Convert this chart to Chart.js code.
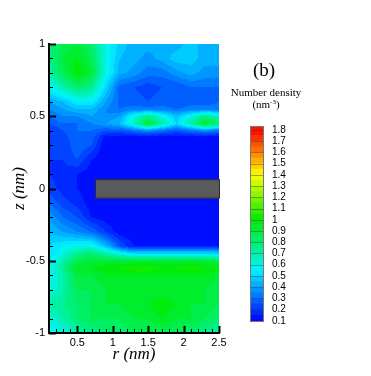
<!DOCTYPE html>
<html>
<head>
<meta charset="utf-8">
<script src="https://cdn.jsdelivr.net/npm/chart.js@4.4.1/dist/chart.umd.min.js"></script>
<style>
  body { margin: 0; background: #fff; width: 371px; height: 376px; position: relative; overflow: hidden; font-family: "Liberation Serif", serif; }
  #main { position: absolute; left: 0; top: 0; }
  #cbar { position: absolute; left: 240px; top: 110px; }
  .lbl { position: absolute; color: #000; text-align: center; white-space: nowrap; }
  .lbl sup { font-size: 7px; vertical-align: 4px; line-height: 0; }
</style>
</head>
<body>
<canvas id="main" width="371" height="376"></canvas>
<canvas id="cbar" width="60" height="230"></canvas>
<div class="lbl" style="left:244px;top:59px;width:40px;font-size:19px;">(b)</div>
<div class="lbl" style="left:216px;top:86px;width:100px;font-size:11px;line-height:12px;">Number density<br>(nm<sup>-3</sup>)</div>
<script>
// grid of the density map (r across, z down)
const rVals = [0.1, 0.3, 0.5, 0.7, 0.9, 1.1, 1.3, 1.5, 1.7, 1.9, 2.1, 2.3, 2.5];
const zVals = [1, 0.9, 0.8, 0.7, 0.6, 0.55, 0.5, 0.45, 0.4, 0.35, 0.3, 0.2, 0.1, 0,
               -0.1, -0.2, -0.3, -0.4, -0.45, -0.5, -0.55, -0.6, -0.7, -0.8, -0.9, -1];
const density = [
  [0.8, 0.85, 0.9, 0.8, 0.6, 0.48, 0.42, 0.42, 0.42, 0.42, 0.48, 0.42, 0.42],
  [0.75, 0.9, 0.95, 0.85, 0.6, 0.45, 0.42, 0.38, 0.42, 0.48, 0.48, 0.42, 0.42],
  [0.7, 0.85, 1.0, 0.9, 0.6, 0.42, 0.38, 0.32, 0.32, 0.38, 0.42, 0.38, 0.38],
  [0.55, 0.7, 0.8, 0.75, 0.5, 0.28, 0.25, 0.22, 0.25, 0.25, 0.3, 0.3, 0.3],
  [0.4, 0.45, 0.55, 0.55, 0.4, 0.28, 0.28, 0.25, 0.28, 0.25, 0.28, 0.28, 0.3],
  [0.35, 0.4, 0.45, 0.45, 0.35, 0.3, 0.32, 0.32, 0.32, 0.3, 0.32, 0.32, 0.32],
  [0.3, 0.35, 0.35, 0.4, 0.35, 0.4, 0.6, 0.75, 0.6, 0.45, 0.6, 0.75, 0.65],
  [0.25, 0.3, 0.3, 0.35, 0.4, 0.45, 0.65, 0.95, 0.7, 0.5, 0.7, 0.95, 0.8],
  [0.2, 0.25, 0.3, 0.3, 0.25, 0.25, 0.3, 0.35, 0.3, 0.25, 0.3, 0.35, 0.3],
  [0.2, 0.22, 0.3, 0.28, 0.12, 0.1, 0.1, 0.1, 0.1, 0.1, 0.1, 0.1, 0.1],
  [0.2, 0.2, 0.3, 0.25, 0.1, 0.1, 0.1, 0.1, 0.1, 0.1, 0.1, 0.1, 0.1],
  [0.2, 0.2, 0.25, 0.15, 0.1, 0.1, 0.1, 0.1, 0.1, 0.1, 0.1, 0.1, 0.1],
  [0.2, 0.18, 0.15, 0.12, 0.1, 0.1, 0.1, 0.1, 0.1, 0.1, 0.1, 0.1, 0.1],
  [0.22, 0.18, 0.15, 0.12, 0.1, 0.1, 0.1, 0.1, 0.1, 0.1, 0.1, 0.1, 0.1],
  [0.3, 0.22, 0.18, 0.12, 0.1, 0.1, 0.1, 0.1, 0.1, 0.1, 0.1, 0.1, 0.1],
  [0.4, 0.3, 0.25, 0.15, 0.12, 0.1, 0.1, 0.1, 0.1, 0.1, 0.1, 0.1, 0.1],
  [0.45, 0.4, 0.35, 0.3, 0.2, 0.12, 0.1, 0.1, 0.1, 0.1, 0.1, 0.1, 0.1],
  [0.5, 0.55, 0.6, 0.6, 0.45, 0.25, 0.15, 0.15, 0.15, 0.15, 0.15, 0.15, 0.15],
  [0.5, 0.6, 0.75, 0.8, 0.7, 0.6, 0.5, 0.5, 0.5, 0.5, 0.5, 0.5, 0.5],
  [0.55, 0.7, 0.85, 0.9, 0.9, 0.9, 0.9, 0.9, 0.9, 0.9, 0.9, 0.9, 0.85],
  [0.55, 0.75, 0.95, 0.95, 1.0, 1.0, 1.05, 1.05, 1.0, 1.0, 1.05, 1.0, 1.0],
  [0.55, 0.7, 0.9, 0.9, 0.95, 0.95, 0.95, 0.95, 0.95, 0.95, 0.95, 0.95, 0.9],
  [0.6, 0.7, 0.85, 0.85, 0.9, 0.9, 0.9, 0.9, 0.9, 0.9, 0.9, 0.9, 0.85],
  [0.7, 0.75, 0.8, 0.85, 0.9, 0.9, 0.95, 0.95, 1.0, 0.95, 0.9, 0.9, 0.85],
  [0.6, 0.7, 0.8, 0.85, 0.85, 0.85, 0.9, 0.9, 0.95, 0.9, 0.9, 0.85, 0.8],
  [0.55, 0.6, 0.7, 0.75, 0.8, 0.8, 0.85, 0.85, 0.85, 0.85, 0.8, 0.75, 0.7]
];

// the solid slab (grey block)
const slabR = [0.75, 2.5];
const slabZ = [-0.07, 0.065];

// axes
const xMajor = [0.5, 1, 1.5, 2, 2.5];
const zMajor = [-1, -0.5, 0, 0.5, 1];
const minorStep = 0.1;

// contour levels / legend
const levelMin = 0.1, levelMax = 1.8, levelStep = 0.05;
const cbTicks = [0.1, 0.2, 0.3, 0.4, 0.5, 0.6, 0.7, 0.8, 0.9, 1, 1.1, 1.2, 1.3, 1.4, 1.5, 1.6, 1.7, 1.8];
const stopVals = [0.1, 0.55, 1.0, 1.4, 1.8];
const stopCols = [[0, 0, 255], [0, 245, 255], [0, 235, 0], [255, 255, 0], [255, 0, 0]];

function cmap(v) {
  if (v <= stopVals[0]) return stopCols[0];
  for (let k = 0; k < stopVals.length - 1; k++) {
    if (v <= stopVals[k + 1]) {
      const t = (v - stopVals[k]) / (stopVals[k + 1] - stopVals[k]);
      return stopCols[k].map((c, i) => Math.round(c + (stopCols[k + 1][i] - c) * t));
    }
  }
  return stopCols[stopCols.length - 1];
}
function bandColor(v) {
  const nb = Math.round((levelMax - levelMin) / levelStep);
  let k = Math.floor((v - levelMin) / levelStep + 1e-9);
  k = Math.max(0, Math.min(nb - 1, k));
  return cmap(levelMin + (k + 0.5) * levelStep);
}
function seg(arr, v) {
  for (let k = 0; k < arr.length - 1; k++) {
    const a = arr[k], b = arr[k + 1];
    if ((v >= Math.min(a, b)) && (v <= Math.max(a, b))) return [k, (v - a) / (b - a)];
  }
  return v < Math.min(arr[0], arr[arr.length - 1]) === (arr[0] < arr[1]) ? [0, 0] : [arr.length - 2, 1];
}
function sample(r, z) {
  const [i, tx] = seg(rVals, r);
  const [j, ty] = seg(zVals, z);
  const a = density[j][i], b = density[j][i + 1], c = density[j + 1][i], d = density[j + 1][i + 1];
  return (a * (1 - tx) + b * tx) * (1 - ty) + (c * (1 - tx) + d * tx) * ty;
}

const densityMap = {
  id: 'densityMap',
  beforeDraw(chart) {
    const {ctx, chartArea: a, scales: {x, y}} = chart;
    const w = Math.round(a.right - a.left), h = Math.round(a.bottom - a.top);
    const off = document.createElement('canvas');
    off.width = w; off.height = h;
    const octx = off.getContext('2d');
    const img = octx.createImageData(w, h);
    for (let j = 0; j < h; j++) {
      const z = y.getValueForPixel(a.top + j + 0.5);
      for (let i = 0; i < w; i++) {
        const r = x.getValueForPixel(a.left + i + 0.5);
        const col = bandColor(sample(r, z));
        const p = (j * w + i) * 4;
        img.data[p] = col[0]; img.data[p + 1] = col[1]; img.data[p + 2] = col[2]; img.data[p + 3] = 255;
      }
    }
    octx.putImageData(img, 0, 0);
    ctx.drawImage(off, a.left, a.top);
    // slab
    const x0 = x.getPixelForValue(slabR[0]), x1 = x.getPixelForValue(slabR[1]);
    const y0 = y.getPixelForValue(slabZ[1]), y1 = y.getPixelForValue(slabZ[0]);
    ctx.save();
    ctx.fillStyle = '#5a5a5a';
    ctx.strokeStyle = '#2a2a2a';
    ctx.lineWidth = 1;
    ctx.fillRect(x0, y0, x1 - x0, y1 - y0);
    ctx.strokeRect(x0 + 0.5, y0 + 0.5, x1 - x0, y1 - y0 - 1);
    ctx.restore();
  }
};

const isMajor = (list, v) => list.some(m => Math.abs(m - v) < 1e-6);

const innerTicks = {
  id: 'innerTicks',
  afterDraw(chart) {
    const {ctx, chartArea: a, scales: {x, y}} = chart;
    ctx.save();
    ctx.strokeStyle = '#000';
    x.ticks.forEach(t => {
      const big = isMajor(xMajor, t.value);
      const px = Math.round(x.getPixelForValue(t.value)) + 0.5;
      ctx.lineWidth = big ? 2 : 1;
      ctx.beginPath(); ctx.moveTo(px, a.bottom); ctx.lineTo(px, a.bottom - (big ? 7 : 4)); ctx.stroke();
    });
    y.ticks.forEach(t => {
      const big = isMajor(zMajor, t.value);
      const py = Math.round(y.getPixelForValue(t.value)) + 0.5;
      ctx.lineWidth = big ? 2 : 1;
      ctx.beginPath(); ctx.moveTo(a.left, py); ctx.lineTo(a.left + (big ? 7 : 4), py); ctx.stroke();
    });
    ctx.restore();
  }
};

function minorTicks(min, max) {
  const out = [];
  const n = Math.round((max - min) / minorStep);
  for (let k = 0; k <= n; k++) out.push({value: Math.round((min + k * minorStep) * 100) / 100});
  return out;
}

const tickFont = {family: 'Liberation Sans', size: 11};
const titleFont = {family: 'Liberation Serif', size: 17, style: 'italic'};

new Chart(document.getElementById('main'), {
  type: 'scatter',
  data: {datasets: []},
  options: {
    responsive: false,
    animation: false,
    layout: {padding: {left: 9, top: 44, right: 152, bottom: 11}},
    plugins: {legend: {display: false}, tooltip: {enabled: false}},
    scales: {
      x: {
        type: 'linear', min: 0.1, max: 2.5,
        afterBuildTicks: s => { s.ticks = minorTicks(0.1, 2.5); },
        afterFit: s => { s.height = 32; },
        grid: {display: false, drawTicks: false},
        border: {display: true, color: '#000', width: 2},
        ticks: {
          padding: 3, autoSkip: false, maxRotation: 0, color: '#000', font: tickFont,
          callback: v => isMajor(xMajor, v) ? String(+v.toFixed(1)) : ''
        },
        title: {display: true, text: 'r (nm)', color: '#000', font: titleFont, padding: 0}
      },
      y: {
        type: 'linear', min: -1, max: 1,
        afterBuildTicks: s => { s.ticks = minorTicks(-1, 1); },
        afterFit: s => { s.width = 40; },
        grid: {display: false, drawTicks: false},
        border: {display: true, color: '#000', width: 2},
        ticks: {
          padding: 4, autoSkip: false, color: '#000', font: tickFont,
          callback: v => isMajor(zMajor, v) ? String(+v.toFixed(1)) : ''
        },
        title: {display: true, text: 'z (nm)', color: '#000', font: titleFont, padding: 0}
      }
    }
  },
  plugins: [densityMap, innerTicks]
});

// colour legend
const cbMin = 0.09, cbMax = 1.835;
const bands = [];
const nBands = Math.round((levelMax - levelMin) / levelStep);
for (let k = 0; k < nBands; k++) {
  const lo = k === 0 ? cbMin : levelMin + k * levelStep;
  const hi = k === nBands - 1 ? cbMax : levelMin + (k + 1) * levelStep;
  const c = cmap(levelMin + (k + 0.5) * levelStep);
  bands.push({lo, hi, color: 'rgb(' + c.join(',') + ')'});
}

const cbLines = {
  id: 'cbLines',
  afterDatasetsDraw(chart) {
    const {ctx, chartArea: a, scales: {y}} = chart;
    ctx.save();
    ctx.strokeStyle = 'rgba(60,60,60,0.45)';
    ctx.lineWidth = 1;
    cbTicks.forEach(v => {
      const py = Math.round(y.getPixelForValue(v)) + 0.5;
      ctx.beginPath(); ctx.moveTo(a.left, py); ctx.lineTo(a.right, py); ctx.stroke();
    });
    ctx.strokeStyle = '#777';
    ctx.strokeRect(a.left + 0.5, a.top + 0.5, a.right - a.left - 1, a.bottom - a.top - 1);
    ctx.restore();
  }
};

new Chart(document.getElementById('cbar'), {
  type: 'bar',
  data: {
    labels: ['level'],
    datasets: bands.map(b => ({
      data: [[b.lo, b.hi]],
      backgroundColor: b.color,
      borderWidth: 0,
      barPercentage: 1,
      categoryPercentage: 1,
      grouped: false
    }))
  },
  options: {
    responsive: false,
    animation: false,
    layout: {padding: {left: 10, top: 16, right: 0, bottom: 18}},
    plugins: {legend: {display: false}, tooltip: {enabled: false}},
    scales: {
      x: {display: false, stacked: true},
      y: {
        position: 'right', min: cbMin, max: cbMax,
        afterBuildTicks: s => { s.ticks = cbTicks.map(v => ({value: v})); },
        afterFit: s => { s.width = 36; },
        grid: {display: false, drawTicks: false},
        border: {display: false},
        ticks: {padding: 8, autoSkip: false, color: '#000', font: {family: 'Liberation Sans', size: 10}, callback: v => String(+v.toFixed(1))}
      }
    }
  },
  plugins: [cbLines]
});
</script>
</body>
</html>
